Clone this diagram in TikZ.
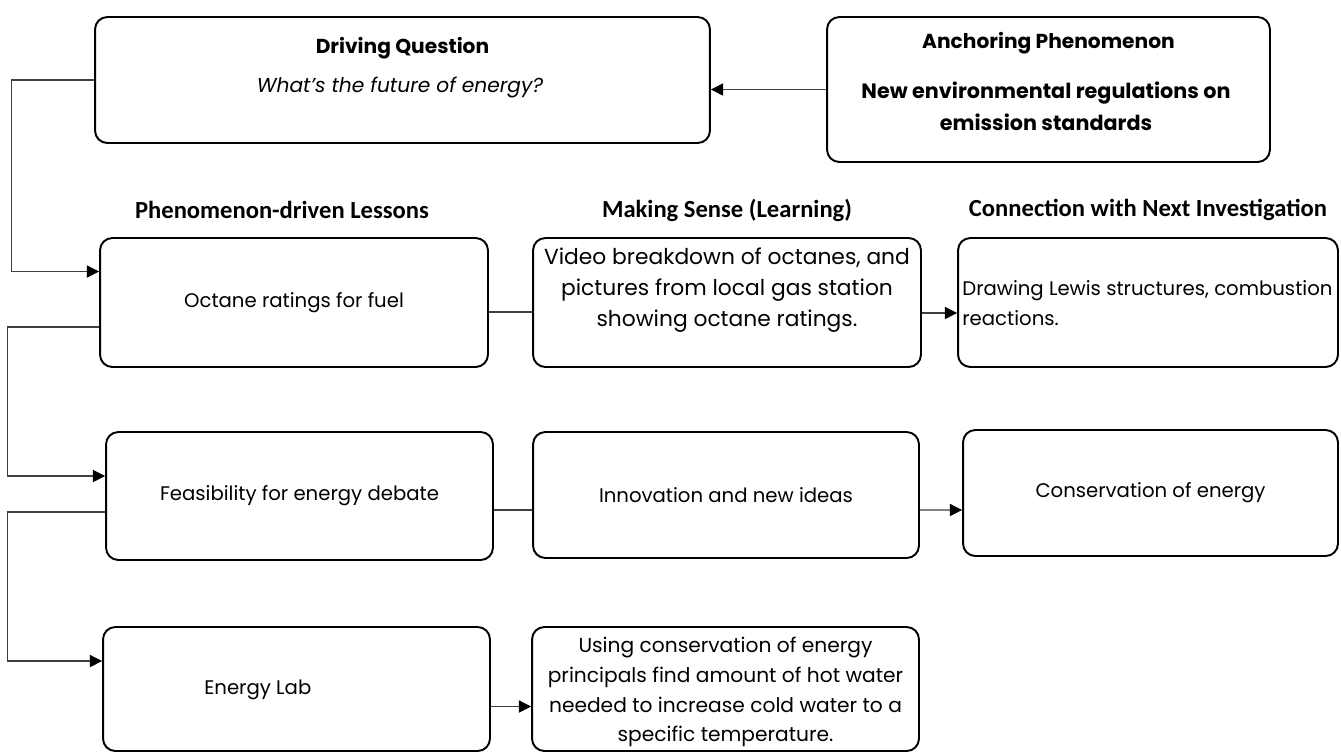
\documentclass[tikz,border=0pt]{standalone}
\usepackage{fontspec}
\setmainfont{Poppins}
\newfontfamily\headfont{Carlito}
\usetikzlibrary{
  arrows.meta,
  positioning
}

\begin{document}
\begin{tikzpicture}[x=0.02cm, y=-0.02cm]
  \tikzset{
    panel/.style = {draw, line width=1.1pt, rounded corners=7pt,
      inner sep=0pt, align=center,
      font=\fontsize{11.2}{17}\selectfont},
    words/.style = {inner sep=0pt, align=center,
      font=\fontsize{11.5}{17}\selectfont},
    colhead/.style = {inner sep=0pt,
      font=\headfont\bfseries\fontsize{14}{16}\selectfont},
    link/.style = {draw=black!75, line width=0.6pt},
    feed/.style = {link, -{Triangle[length=7pt,width=7pt,color=black]}},
  }
  \clip (0,0) rectangle (1341,755);

  % top row
  \node[panel, minimum width=12.3cm, minimum height=2.52cm] (dq) at (402.5,80) {};
  \node[words, font=\bfseries\fontsize{11.5}{17}\selectfont] (dq-title) at (402.5,48) {Driving Question};
  \node[words, font=\itshape\fontsize{11.5}{17}\selectfont] (dq-text) at (400,88) {What’s the future of energy?};

  \node[panel, minimum width=8.86cm, minimum height=2.9cm] (anchor) at (1048.5,89.5) {};
  \node[words, font=\bfseries\fontsize{11.5}{17}\selectfont] (anchor-title) at (1048.5,43) {Anchoring Phenomenon};
  \node[words, font=\bfseries\fontsize{11.8}{18}\selectfont] (anchor-text) at (1046,106) {New environmental regulations on\\emission standards};

  % column heads
  \node[colhead] (head-a) at (282,210) {Phenomenon-driven Lessons};
  \node[colhead] (head-b) at (727,210) {Making Sense (Learning)};
  \node[colhead] (head-c) at (1148,210) {Connection with Next Investigation};

  % row 1
  \node[panel, minimum width=7.76cm, minimum height=2.58cm] (octane) at (294,302.5) {Octane ratings for fuel};
  \node[panel, minimum width=7.76cm, minimum height=2.58cm] (video) at (727,302.5) {};
  \node[words, font=\fontsize{12.4}{17.5}\selectfont] (video-text) at (727,290) {Video breakdown of octanes, and\\pictures from local gas station\\showing octane ratings.};
  \node[panel, minimum width=7.6cm, minimum height=2.58cm] (lewis) at (1148,302.5) {};
  \node[words, align=left, anchor=west, font=\fontsize{11.2}{17}\selectfont] (lewis-text) at (962,303) {Drawing Lewis structures, combustion\\reactions.};

  % row 2
  \node[panel, minimum width=7.74cm, minimum height=2.56cm] (feas) at (299.5,496) {Feasibility for energy debate};
  \node[panel, minimum width=7.72cm, minimum height=2.52cm] (innov) at (726,495) {Innovation and new ideas};
  \node[panel, minimum width=7.5cm, minimum height=2.52cm] (cons) at (1150.5,493) {Conservation of energy};

  % row 3
  \node[panel, minimum width=7.74cm, minimum height=2.48cm] (lab) at (296.5,689) {};
  \node[words, anchor=west, font=\fontsize{11.2}{17}\selectfont] (lab-text) at (204,690) {Energy Lab};
  \node[panel, minimum width=7.74cm, minimum height=2.48cm] (using) at (725.5,689) {};
  \node[words] (using-text) at (725.5,692) {Using conservation of energy\\principals find amount of hot water\\needed to increase cold water to a\\specific temperature.};

  % connectors
  \draw[feed] (anchor.west) -- (dq.east |- anchor.west);
  \draw[feed] (dq.west) -- ++(-83,0) |- ([yshift=0.62cm]octane.west);
  \draw[feed] ([yshift=-0.49cm]octane.west) -- ++(-92,0) |- ([yshift=0.4cm]feas.west);
  \draw[feed] ([yshift=-0.32cm]feas.west) -- ++(-98,0) |- ([yshift=0.56cm]lab.west);

  \draw[link] ([yshift=-0.19cm]octane.east) -- ([yshift=-0.19cm]video.west);
  \draw[feed] ([yshift=-0.21cm]video.east) -- ([yshift=-0.21cm]lewis.west);
  \draw[link] ([yshift=-0.28cm]feas.east) -- ([yshift=-0.3cm]innov.west);
  \draw[feed] ([yshift=-0.3cm]innov.east) -- ([yshift=-0.34cm]cons.west);
  \draw[feed] ([yshift=-0.35cm]lab.east) -- ([yshift=-0.35cm]using.west);
\end{tikzpicture}
\end{document}
